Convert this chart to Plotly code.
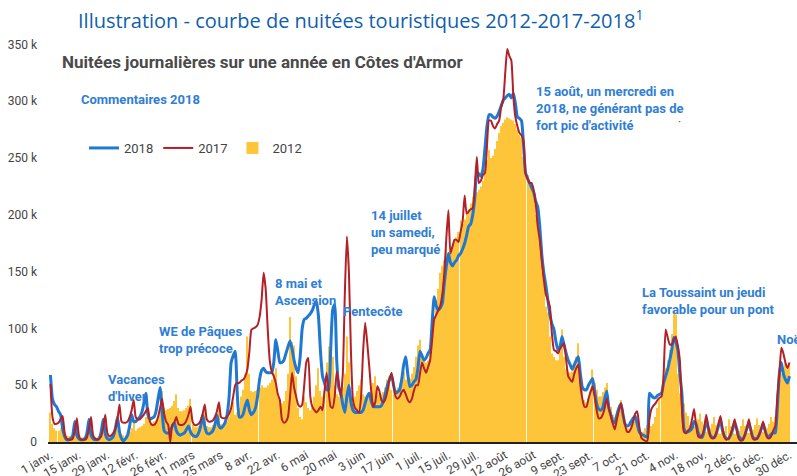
import plotly.graph_objects as go
import pandas as pd

# Daily guest-nights (thousands), one value per day of the year
s2018 = [
    59, 38, 33, 31, 27, 24, 12,
    5, 2, 2, 3, 6, 18, 6,
    3, 2, 2, 3, 8, 20, 6,
    3, 2, 2, 3, 9, 20, 7,
    3, 2, 3, 5, 12, 22, 9,
    3, 1, 3, 6, 14, 24, 18,
    18, 20, 22, 26, 34, 43, 24,
    20, 21, 22, 27, 38, 48, 26,
    10, 8, 8, 10, 14, 17, 10,
    7, 6, 7, 8, 11, 14, 9,
    6, 5, 5, 8, 14, 24, 14,
    8, 7, 8, 10, 15, 24, 14,
    12, 14, 17, 24, 40, 70, 76,
    80, 43, 22, 22, 25, 32, 37,
    28, 24, 26, 30, 40, 55, 63,
    65, 62, 61, 61, 61, 70, 90,
    80, 70, 70, 72, 78, 84, 89,
    82, 72, 65, 61, 75, 100, 108,
    109, 111, 113, 116, 121, 124, 111,
    80, 58, 52, 46, 46, 80, 116,
    121, 72, 48, 43, 33, 26, 40,
    50, 35, 28, 26, 26, 26, 26,
    28, 34, 40, 43, 36, 31, 31,
    31, 31, 32, 36, 43, 50, 55,
    59, 50, 43, 44, 46, 55, 68,
    75, 60, 49, 50, 53, 55, 65,
    80, 76, 72, 74, 78, 81, 105,
    128, 120, 116, 118, 122, 140, 155,
    166, 158, 155, 158, 160, 164, 166,
    170, 175, 182, 190, 192, 200, 215,
    237, 236, 234, 240, 258, 278, 288,
    288, 286, 285, 287, 291, 296, 301,
    303, 305, 306, 303, 307, 298, 286,
    285, 283, 262, 237, 232, 228, 224,
    220, 212, 207, 190, 165, 149, 138,
    125, 112, 104, 99, 88, 81, 84,
    93, 85, 78, 72, 68, 64, 68,
    72, 75, 60, 48, 46, 46, 50,
    53, 56, 45, 34, 29, 28, 30,
    38, 45, 30, 24, 18, 17, 24,
    30, 34, 24, 16, 14, 15, 18,
    21, 23, 16, 9, 7, 6, 5,
    4, 43, 41, 39, 39, 41, 42,
    43, 52, 58, 64, 72, 81, 92,
    88, 81, 60, 43, 12, 8, 9,
    10, 12, 18, 16, 8, 5, 4,
    10, 20, 12, 6, 4, 4, 8,
    14, 20, 10, 5, 3, 3, 6,
    11, 17, 12, 5, 3, 2, 6,
    12, 17, 10, 4, 3, 3, 6,
    11, 16, 10, 5, 5, 7, 8,
    8, 30, 60, 70, 60, 55, 52,
    58,
]

s2017 = [
    51, 22, 16, 16, 17, 20, 23,
    8, 3, 2, 2, 3, 10, 21,
    6, 2, 2, 2, 4, 12, 22,
    6, 3, 2, 3, 5, 13, 24,
    8, 5, 6, 8, 12, 20, 33,
    18, 17, 17, 18, 22, 28, 37,
    22, 20, 20, 22, 24, 27, 30,
    18, 15, 15, 17, 22, 30, 38,
    25, 18, 15, 0, 15, 17, 22,
    16, 15, 15, 16, 19, 24, 31,
    18, 15, 15, 16, 19, 25, 33,
    20, 18, 18, 19, 22, 27, 35,
    22, 21, 21, 22, 25, 30, 40,
    50, 52, 52, 54, 55, 58, 64,
    80, 99, 100, 101, 103, 110, 125,
    149, 135, 100, 72, 62, 58, 52,
    42, 37, 20, 17, 18, 22, 40,
    61, 48, 40, 33, 31, 33, 50,
    70, 74, 40, 31, 28, 26, 28,
    31, 28, 45, 61, 45, 31, 30,
    40, 62, 52, 40, 60, 131, 181,
    150, 80, 37, 30, 28, 26, 40,
    80, 105, 88, 67, 45, 31, 35,
    49, 45, 37, 35, 38, 45, 55,
    61, 50, 40, 38, 40, 44, 46,
    42, 37, 35, 38, 45, 50, 50,
    60, 70, 65, 61, 66, 72, 90,
    108, 112, 116, 120, 130, 149, 180,
    204, 166, 172, 178, 178, 176, 185,
    194, 217, 201, 203, 205, 206, 225,
    251, 228, 230, 235, 237, 260, 283,
    283, 278, 276, 280, 283, 295, 301,
    325, 346, 340, 336, 304, 286, 278,
    272, 270, 265, 237, 232, 228, 228,
    222, 210, 190, 178, 160, 143, 130,
    125, 119, 95, 81, 80, 78, 82,
    85, 87, 72, 58, 55, 53, 60,
    65, 68, 50, 38, 31, 31, 38,
    44, 49, 40, 28, 21, 21, 24,
    30, 38, 30, 23, 16, 11, 20,
    28, 34, 25, 15, 9, 9, 12,
    18, 25, 27, 14, 4, 2, 1,
    1, 20, 29, 32, 34, 37, 39,
    40, 60, 99, 92, 86, 86, 90,
    93, 85, 72, 30, 9, 8, 10,
    12, 20, 29, 15, 5, 4, 6,
    12, 24, 14, 5, 3, 4, 8,
    16, 23, 12, 4, 2, 3, 7,
    13, 20, 10, 3, 1, 2, 6,
    12, 20, 10, 3, 2, 3, 6,
    11, 18, 10, 4, 3, 5, 10,
    14, 40, 60, 83, 78, 70, 65,
    70,
]

s2012 = [
    26, 16, 12, 10, 10, 12, 16,
    6, 5, 5, 5, 6, 9, 15,
    5, 4, 4, 5, 6, 9, 15,
    5, 4, 4, 5, 7, 10, 16,
    6, 5, 5, 6, 8, 11, 17,
    7, 6, 6, 7, 9, 12, 18,
    10, 12, 13, 14, 16, 22, 26,
    16, 17, 18, 19, 22, 30, 45,
    30, 28, 29, 30, 32, 36, 42,
    30, 27, 27, 28, 30, 32, 38,
    15, 13, 13, 14, 17, 22, 28,
    14, 13, 13, 15, 18, 24, 30,
    16, 15, 16, 18, 22, 30, 35,
    24, 26, 30, 40, 46, 60, 93,
    60, 45, 44, 45, 46, 48, 50,
    48, 48, 50, 52, 55, 60, 65,
    40, 35, 34, 36, 45, 60, 110,
    88, 85, 58, 30, 22, 20, 40,
    35, 30, 28, 30, 40, 50, 65,
    45, 40, 45, 70, 84, 80, 75,
    50, 42, 40, 42, 48, 60, 93,
    70, 40, 38, 40, 45, 50, 55,
    42, 40, 40, 42, 46, 52, 58,
    44, 42, 42, 44, 48, 55, 58,
    46, 45, 46, 48, 52, 58, 62,
    55, 54, 56, 60, 66, 75, 85,
    90, 78, 72, 70, 72, 78, 100,
    110, 125, 135, 149, 155, 160, 170,
    165, 168, 172, 178, 180, 185, 195,
    192, 196, 200, 205, 210, 216, 222,
    220, 222, 225, 230, 240, 248, 257,
    250, 252, 258, 265, 272, 278, 281,
    284, 286, 285, 284, 283, 280, 275,
    270, 268, 251, 240, 235, 228, 222,
    215, 200, 190, 178, 163, 140, 119,
    114, 93, 78, 75, 72, 72, 80,
    99, 75, 64, 62, 61, 62, 66,
    75, 87, 55, 50, 37, 35, 38,
    45, 64, 52, 46, 40, 40, 44,
    48, 52, 35, 31, 24, 22, 28,
    32, 37, 20, 14, 12, 12, 16,
    20, 23, 14, 10, 9, 9, 12,
    15, 18, 14, 16, 22, 30, 38,
    45, 58, 65, 72, 81, 95, 116,
    112, 60, 43, 37, 34, 26, 23,
    15, 13, 14, 16, 20, 25, 18,
    10, 9, 10, 12, 16, 22, 15,
    8, 7, 8, 10, 14, 20, 14,
    8, 7, 8, 10, 14, 20, 14,
    8, 8, 9, 11, 15, 21, 15,
    9, 9, 10, 12, 16, 22, 18,
    22, 30, 52, 60, 65, 70, 64,
    68,
]

x_tick_labels = ["1 janv.", "15 janv.", "29 janv.", "12 févr.", "26 févr.", "11 mars",
                 "25 mars", "8 avr.", "22 avr.", "6 mai", "20 mai", "3 juin", "17 juin",
                 "1 juil.", "15 juil.", "29 juil.", "12 août", "26 août", "9 sept.",
                 "23 sept.", "7 oct.", "21 oct.", "4 nov.", "18 nov.", "2 déc.",
                 "16 déc.", "30 déc."]
y_tick_values = [0, 50, 100, 150, 200, 250, 300, 350]
y_tick_labels = ["0", "50 k", "100 k", "150 k", "200 k", "250 k", "300 k", "350 k"]

assert len(s2018) == 365 and len(s2017) == 365 and len(s2012) == 365, (len(s2018), len(s2017), len(s2012))

days = pd.date_range("2018-01-01", periods=365, freq="D")
tick_dates = pd.date_range("2018-01-01", periods=len(x_tick_labels), freq="14D")
start = days[0]
x_range = [start - pd.Timedelta(hours=1.2 * 24), start + pd.Timedelta(hours=367.7 * 24)]

W, H = 797, 476
ML, MR, MT, MB = 48, 0, 0, 34
PW, PH = W - ML - MR, H - MT - MB

BLUE = "#1f78d1"
RED = "#b42025"
ORANGE = "#ffc53a"
ANN = "#2f7ed6"
GREY = "#444444"


def px(x):
    return (x - ML) / PW


def py(y):
    return (MT + PH - y) / PH


fig = go.Figure()
fig.add_trace(go.Scatter(x=days, y=s2018, name="2018", mode="lines",
                         line=dict(color=BLUE, width=3, shape="spline", smoothing=0.5)))
fig.add_trace(go.Scatter(x=days, y=s2017, name="2017", mode="lines",
                         line=dict(color=RED, width=2, shape="spline", smoothing=0.5)))
fig.add_trace(go.Bar(x=days, y=s2012, name="2012", marker=dict(color=ORANGE, line=dict(width=0))))

annotations = []


def ann(text, xl, yc, size=13, color=ANN, bold=True, family="Roboto", anchor="left"):
    annotations.append(dict(
        text=f"<b>{text}</b>" if bold else text,
        x=px(xl), y=py(yc), xref="paper", yref="paper",
        xanchor=anchor, yanchor="middle", align="left", showarrow=False,
        font=dict(family=family, size=size, color=color)))


ann("Illustration - courbe de nuitées touristiques 2012-2017-2018<sup>1</sup>", 360, 20,
    size=20, color="#0f5fae", bold=False, family="Open Sans", anchor="center")
ann("Nuitées journalières sur une année en Côtes d'Armor", 60, 62, size=17, color="#4a4a4a")
ann("Commentaires 2018", 79, 100)
ann("15 août, un mercredi en<br>2018, ne générant pas de<br>fort pic d'activité", 534, 108)
ann("14 juillet<br>un samedi,<br>peu marqué", 369, 232)
ann("8 mai et<br>Ascension", 273, 291.5)
ann("Pentecôte", 341, 311)
ann("WE de Pâques<br>trop précoce", 157, 339.5)
ann("Vacances<br>d'hiver", 106, 388)
ann("La Toussaint un jeudi<br>favorable pour un pont", 640, 301)
ann("Noël", 775, 340)
ann("·", 676, 122, size=12, color="#555555", bold=False)

fig.update_layout(
    width=W, height=H,
    margin=dict(l=ML, r=MR, t=MT, b=MB, autoexpand=False),
    paper_bgcolor="white", plot_bgcolor="white",
    bargap=0.45,
    showlegend=True,
    legend=dict(orientation="h", x=px(84), y=py(148), xanchor="left", yanchor="middle",
                font=dict(family="Roboto", size=13, color=GREY), bgcolor="rgba(0,0,0,0)",
                traceorder="normal", itemwidth=30),
    annotations=annotations,
    xaxis=dict(range=x_range, tickmode="array", tickvals=tick_dates, ticktext=x_tick_labels,
               tickangle=-30, showgrid=False, zeroline=False, showline=True,
               linecolor="#222222", linewidth=1.5, ticks="", automargin=False,
               tickfont=dict(family="Roboto", size=12, color=GREY)),
    yaxis=dict(range=[0, PH / 1.1357], tickmode="array", tickvals=y_tick_values,
               ticktext=y_tick_labels, showgrid=False, zeroline=False, showline=False,
               ticks="", automargin=False, ticklabelstandoff=10,
               tickfont=dict(family="Roboto", size=12, color=GREY)),
)

fig.write_html("out.html", config={"displayModeBar": False},
               post_script="document.body.style.margin='0px';document.body.style.overflow='hidden';")
